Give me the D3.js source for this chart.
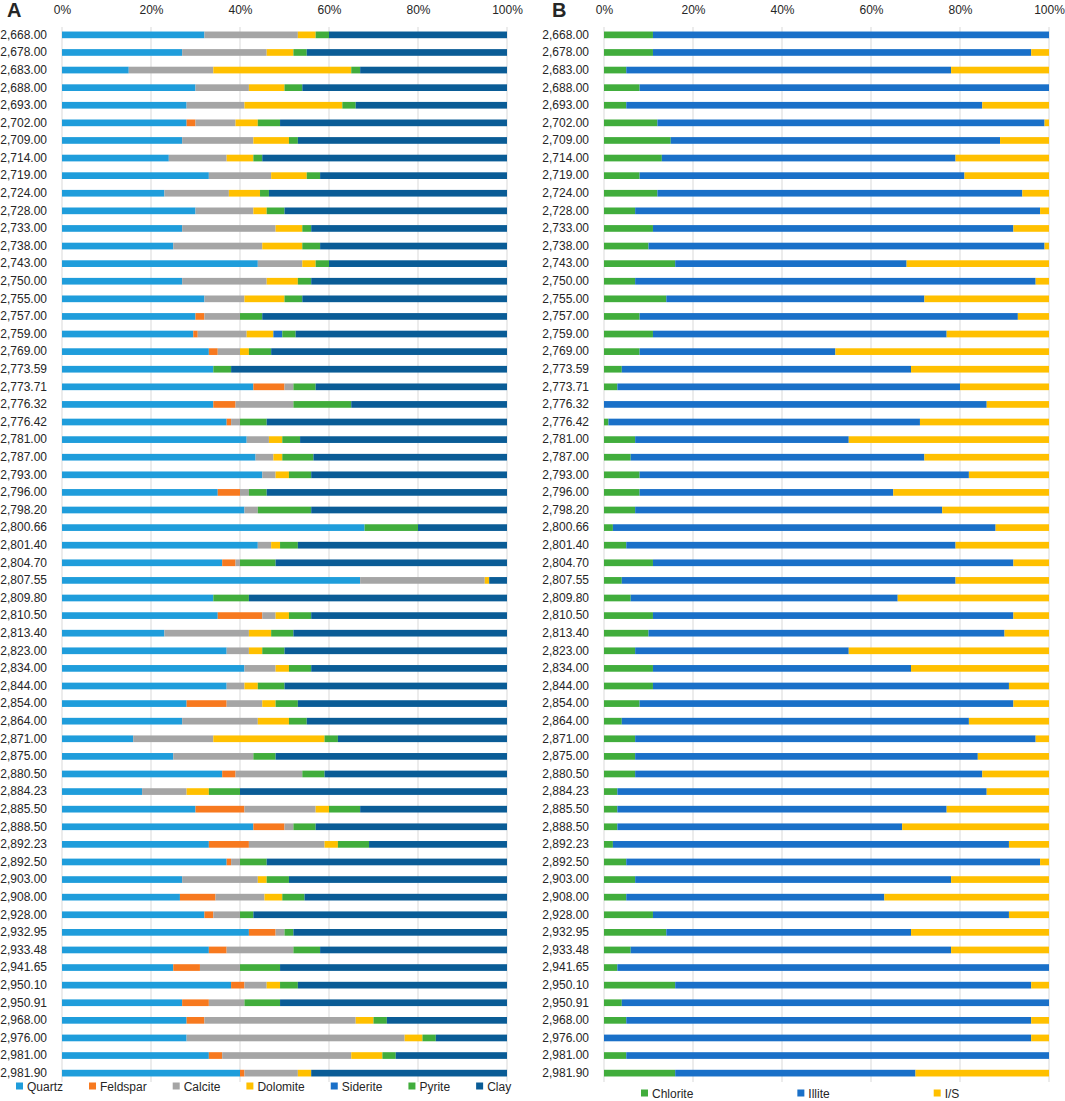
<!DOCTYPE html>
<html>
<head>
<meta charset="utf-8">
<script src="https://cdn.jsdelivr.net/npm/d3@7"></script>
<style>
body { margin: 0; background: #fff; }
text { font-family: "Liberation Sans", Arial, sans-serif; fill: #262626; }
</style>
</head>
<body>
<div id="chart"></div>
<script>
// depths (m)
var depths = [2668, 2678, 2683, 2688, 2693, 2702, 2709, 2714, 2719, 2724,
    2728, 2733, 2738, 2743, 2750, 2755, 2757, 2759, 2769, 2773.59,
    2773.71, 2776.32, 2776.42, 2781, 2787, 2793, 2796, 2798.2, 2800.66, 2801.4,
    2804.7, 2807.55, 2809.8, 2810.5, 2813.4, 2823, 2834, 2844, 2854, 2864,
    2871, 2875, 2880.5, 2884.23, 2885.5, 2888.5, 2892.23, 2892.5, 2903, 2908,
    2928, 2932.95, 2933.48, 2941.65, 2950.1, 2950.91, 2968, 2976, 2981, 2981.9];

// panel A: whole rock minerals (%)
var quartz = [32, 27, 15, 30, 28, 28, 27, 24, 33, 23,
    30, 27, 25, 44, 27, 32, 30, 29.5, 33, 34,
    43, 34, 37, 41.5, 43.5, 45, 35, 41, 68, 44,
    36, 67, 34, 35, 23, 37, 41, 37, 28, 27,
    16, 25, 36, 18, 30, 43, 33, 37, 27, 26.5,
    32, 42, 33, 25, 38, 27, 28, 28, 33, 40];
var feldspar = [0, 0, 0, 0, 0, 2, 0, 0, 0, 0,
    0, 0, 0, 0, 0, 0, 2, 1, 2, 0,
    7, 5, 1, 0, 0, 0, 5, 0, 0, 0,
    3, 0, 0, 10, 0, 0, 0, 0, 9, 0,
    0, 0, 3, 0, 11, 7, 9, 1, 0, 8,
    2, 6, 4, 6, 3, 6, 4, 0, 3, 1];
var calcite = [21, 19, 19, 12, 13, 9, 16, 13, 14, 14.5,
    13, 21, 20, 10, 19, 9, 8, 11, 5, 0,
    2, 13, 2, 5, 4, 3, 2, 3, 0, 3,
    1, 28, 0, 3, 19, 5, 7, 4, 8, 17,
    18, 18, 15, 10, 16, 2, 17, 2, 17, 11,
    6, 2, 15, 9, 5, 8, 34, 49, 29, 12];
var dolomite = [4, 6, 31, 8, 22, 5, 8, 6, 8, 7,
    3, 6, 9, 3, 7, 9, 0, 6, 2, 0,
    0, 0, 0, 3, 2, 3, 0, 0, 0, 2,
    0, 1, 0, 3, 5, 3, 3, 3, 3, 7,
    25, 0, 0, 5, 3, 0, 3, 0, 2, 4,
    0, 0, 0, 0, 3, 0, 4, 4, 7, 3];
var siderite = [0, 0, 0, 0, 0, 0, 0, 0, 0, 0,
    0, 0, 0, 0, 0, 0, 0, 2, 0, 0,
    0, 0, 0, 0, 0, 0, 0, 0, 0, 0,
    0, 0, 0, 0, 0, 0, 0, 0, 0, 0,
    0, 0, 0, 0, 0, 0, 0, 0, 0, 0,
    0, 0, 0, 0, 0, 0, 0, 0, 0, 0];
var pyrite = [3, 3, 2, 4, 3, 5, 2, 2, 3, 2,
    4, 2, 4, 3, 3, 4, 5, 3, 5, 4,
    5, 13, 6, 4, 7, 5, 4, 12, 12, 4,
    8, 0, 8, 5, 5, 5, 5, 6, 5, 4,
    3, 5, 5, 7, 7, 5, 7, 6, 5, 5,
    3, 2, 6, 9, 4, 8, 3, 3, 3, 0];
var clay = [40, 45, 33, 46, 34, 51, 47, 55, 42, 53.5,
    50, 44, 42, 40, 44, 46, 55, 47.5, 53, 62,
    43, 35, 54, 46.5, 43.5, 44, 54, 44, 20, 47,
    52, 4, 58, 44, 48, 50, 44, 50, 47, 45,
    38, 52, 41, 60, 33, 43, 31, 54, 49, 45.5,
    57, 48, 42, 51, 47, 51, 27, 16, 25, 44];

// panel B: clay minerals (%)
var chlorite = [11, 11, 5, 8, 5, 12, 15, 13, 8, 12,
    7, 11, 10, 16, 7, 14, 8, 11, 8, 4,
    3, 0, 1, 7, 6, 8, 8, 7, 2, 5,
    11, 4, 6, 11, 10, 7, 11, 11, 8, 4,
    7, 7, 7, 3, 3, 3, 2, 5, 7, 5,
    11, 14, 6, 3, 16, 4, 5, 0, 5, 16];
var illite = [89, 85, 73, 92, 80, 87, 74, 66, 73, 82,
    91, 81, 89, 52, 90, 58, 85, 66, 44, 65,
    77, 86, 70, 48, 66, 74, 57, 69, 86, 74,
    81, 75, 60, 81, 80, 48, 58, 80, 84, 78,
    90, 77, 78, 83, 74, 64, 89, 93, 71, 58,
    80, 55, 72, 97, 80, 96, 91, 96, 95, 54];
var illiteSmectite = [0, 4, 22, 0, 15, 1, 11, 21, 19, 6,
    2, 8, 1, 32, 3, 28, 7, 23, 48, 31,
    20, 14, 29, 45, 28, 18, 35, 24, 12, 21,
    8, 21, 34, 8, 10, 45, 31, 9, 8, 18,
    3, 16, 15, 14, 23, 33, 9, 2, 22, 37,
    9, 31, 22, 0, 4, 0, 4, 4, 0, 30];

var keysA = ["Quartz", "Feldspar", "Calcite", "Dolomite", "Siderite", "Pyrite", "Clay"];
var seriesA = [quartz, feldspar, calcite, dolomite, siderite, pyrite, clay];
var colorsA = ["#1f9ddb", "#f7791f", "#a5a5a5", "#ffc000", "#1a70c8", "#41ad3c", "#0a5c96"];

var keysB = ["Chlorite", "Illite", "I/S"];
var seriesB = [chlorite, illite, illiteSmectite];
var colorsB = ["#41ad3c", "#1a70c8", "#ffc000"];

var svgWidth = 1065;
var svgHeight = 1101;

var svg = d3.select("#chart")
    .append("svg")
    .attr("width", svgWidth)
    .attr("height", svgHeight);

var fmt = d3.format(",.2f");
var labels = depths.map(d => fmt(d));

var y = d3.scaleBand()
    .domain(labels)
    .range([28, 1080])
    .paddingInner(0.62)
    .paddingOuter(0.2);

function drawPanel(opts) {
    var rows = labels.map(function(lab, i) {
        var row = {label: lab};
        opts.keys.forEach(function(k, j) { row[k] = opts.series[j][i]; });
        return row;
    });

    var stacked = d3.stack()
        .keys(opts.keys)
        .offset(d3.stackOffsetExpand)(rows);

    var x = d3.scaleLinear()
        .domain([0, 1])
        .range([opts.x0, opts.x1]);

    var color = d3.scaleOrdinal()
        .domain(opts.keys)
        .range(opts.colors);

    var g = svg.append("g");

    // gridlines
    g.append("g")
        .selectAll("line")
        .data(x.ticks(5))
        .enter()
        .append("line")
        .attr("x1", d => x(d))
        .attr("x2", d => x(d))
        .attr("y1", 27)
        .attr("y2", 1082)
        .attr("stroke", "#d9d9d9")
        .attr("stroke-width", 1);

    // top axis
    var topAxis = g.append("g")
        .attr("transform", "translate(0, 14)")
        .call(d3.axisTop(x).ticks(5, "%").tickSize(0).tickPadding(0));
    topAxis.select(".domain").remove();
    topAxis.selectAll("text")
        .style("font-size", "12px")
        .style("font-family", "\"Liberation Sans\", Arial, sans-serif")
        .attr("fill", "#262626");

    // left axis
    var leftAxis = g.append("g")
        .attr("transform", `translate(${opts.x0}, 0)`)
        .call(d3.axisLeft(y).tickSize(0).tickPadding(opts.labelPad));
    leftAxis.select(".domain").remove();
    leftAxis.selectAll("text")
        .style("font-size", "12px")
        .style("font-family", "\"Liberation Sans\", Arial, sans-serif")
        .attr("fill", "#1a1a1a");

    // bars
    g.append("g")
        .selectAll("g")
        .data(stacked)
        .enter()
        .append("g")
        .attr("fill", d => color(d.key))
        .selectAll("rect")
        .data(d => d)
        .enter()
        .append("rect")
        .attr("x", d => x(d[0]))
        .attr("width", d => x(d[1]) - x(d[0]))
        .attr("y", d => y(d.data.label))
        .attr("height", y.bandwidth());

    // panel letter
    g.append("text")
        .attr("x", opts.letterX)
        .attr("y", 17)
        .style("font-size", "20px")
        .style("font-weight", "bold")
        .attr("fill", "#000")
        .text(opts.letter);

    // legend
    var legend = g.append("g")
        .attr("transform", `translate(0, ${opts.legendY})`);
    var lx = opts.legendX;
    opts.keys.forEach(function(k) {
        legend.append("rect")
            .attr("x", lx)
            .attr("y", -3.5)
            .attr("width", 7)
            .attr("height", 7)
            .attr("fill", color(k));
        var t = legend.append("text")
            .attr("x", lx + 11)
            .attr("y", 4.5)
            .style("font-size", "12px")
            .text(k);
        lx += 11 + t.node().getComputedTextLength() + opts.legendGap;
    });
}

drawPanel({
    keys: keysA, series: seriesA, colors: colorsA,
    x0: 62, x1: 507, labelPad: 15,
    letter: "A", letterX: 7,
    legendX: 16, legendY: 1086, legendGap: 26
});

drawPanel({
    keys: keysB, series: seriesB, colors: colorsB,
    x0: 604, x1: 1049, labelPad: 15,
    letter: "B", letterX: 552,
    legendX: 641, legendY: 1093, legendGap: 104
});
</script>
</body>
</html>
